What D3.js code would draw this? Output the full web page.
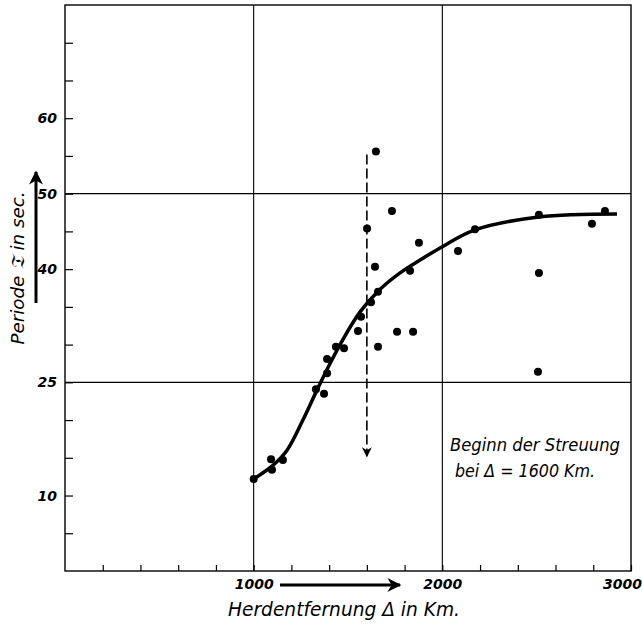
<!DOCTYPE html>
<head>
  <meta charset="utf-8" />
  <title>Periode und Herdentfernung</title>
  <style>
    body { margin: 0; background: #fff; }
    text { font-family: "DejaVu Sans Condensed", "DejaVu Sans", sans-serif; font-style: italic; fill: #000; }
  </style>
</head>
<body>
  <script src="https://cdn.jsdelivr.net/npm/d3@7"></script>
  <script>
    // Messpunkte: Herdentfernung (km) und Periode (sec)
    var distKm = [1000, 1092, 1097, 1155, 1330, 1373, 1389, 1389, 1436, 1479,
      1553, 1569, 1622, 1659, 1659, 1643, 1601, 1648, 1733, 1760,
      1845, 1829, 1876, 2083, 2173, 2512, 2512, 2507, 2793, 2862];
    var periodSec = [12.2, 14.8, 13.4, 14.7, 24.1, 23.5, 26.2, 28.1, 29.7, 29.5,
      31.8, 33.7, 35.6, 37.0, 29.7, 40.3, 45.4, 55.6, 47.7, 31.7,
      31.7, 39.8, 43.5, 42.4, 45.3, 47.2, 39.5, 26.4, 46.0, 47.7];
    // ausgeglichene Kurve
    var curveKm = [1000, 1102, 1177, 1261, 1336, 1389, 1458, 1563, 1669, 1776, 1882, 1988, 2173, 2512, 2926];
    var curveSec = [12.2, 14.0, 16.0, 20.0, 24.0, 26.7, 30.0, 34.3, 37.3, 39.5, 41.2, 42.8, 45.2, 46.9, 47.3];
    // Beginn der Streuung
    var scatterKm = 1600;
    var scatterFrom = 55.2, scatterTo = 15.2;

    var yTicks = [5, 10, 15, 20, 25, 30, 35, 40, 45, 50, 55, 60, 65, 70];
    var yLabels = [10, 25, 40, 50, 60];
    var xTicks = [200, 400, 600, 800, 1000, 1200, 1400, 1600, 1800, 2000, 2200, 2400, 2600, 2800, 3000];
    var xLabels = [1000, 2000, 3000];
    var gridX = [1000, 2000];
    var gridY = [25, 50];

    var width = 642, height = 627;
    var x = d3.scaleLinear().domain([0, 3000]).range([65, 631]);
    var y = d3.scaleLinear().domain([0, 75]).range([571, 5]);

    var svg = d3.select("body").append("svg")
      .attr("width", width).attr("height", height);

    var defs = svg.append("defs");
    defs.append("marker").attr("id", "head")
      .attr("viewBox", "0 0 10 10").attr("refX", 9).attr("refY", 5)
      .attr("markerWidth", 10).attr("markerHeight", 10)
      .attr("markerUnits", "userSpaceOnUse").attr("orient", "auto")
      .append("path").attr("d", "M0,0 L10,5 L0,10 L3,5 Z").attr("fill", "#000");
    defs.append("marker").attr("id", "bighead")
      .attr("viewBox", "0 0 10 10").attr("refX", 9).attr("refY", 5)
      .attr("markerWidth", 16).attr("markerHeight", 14)
      .attr("markerUnits", "userSpaceOnUse").attr("orient", "auto")
      .append("path").attr("d", "M0,0 L10,5 L0,10 L3,5 Z").attr("fill", "#000");

    // Rahmen und Gitter
    svg.append("rect")
      .attr("x", x(0)).attr("y", y(75))
      .attr("width", x(3000) - x(0)).attr("height", y(0) - y(75))
      .attr("fill", "none").attr("stroke", "#000").attr("stroke-width", 1.4);
    svg.selectAll(".gx").data(gridX).enter().append("line")
      .attr("x1", d => x(d)).attr("x2", d => x(d))
      .attr("y1", y(0)).attr("y2", y(75))
      .attr("stroke", "#000").attr("stroke-width", 1.1);
    svg.selectAll(".gy").data(gridY).enter().append("line")
      .attr("x1", x(0)).attr("x2", x(3000))
      .attr("y1", d => y(d)).attr("y2", d => y(d))
      .attr("stroke", "#000").attr("stroke-width", 1.1);

    // Achsen
    var yAxis = d3.axisLeft(y).tickValues(yTicks).tickSize(-8).tickPadding(8)
      .tickFormat(d => yLabels.indexOf(d) >= 0 ? d : "");
    var gy = svg.append("g").attr("transform", "translate(" + x(0) + ",0)").call(yAxis);
    var xAxis = d3.axisBottom(x).tickValues(xTicks).tickSize(-6).tickPadding(8)
      .tickFormat(d => xLabels.indexOf(d) >= 0 ? d : "");
    var gx = svg.append("g").attr("transform", "translate(0," + y(0) + ")").call(xAxis);
    [gx, gy].forEach(function (g) {
      g.select(".domain").remove();
      g.selectAll(".tick line").attr("stroke", "#000").attr("stroke-width", 1.2);
      g.selectAll(".tick text")
        .style("font-family", "'DejaVu Sans', sans-serif")
        .style("font-style", "italic").style("font-weight", "bold")
        .attr("font-size", 14);
    });
    gx.selectAll(".tick text").filter(d => d === 3000).attr("dx", -9);

    // Achsentitel
    svg.append("text").attr("x", 228).attr("y", 616).attr("font-size", 19)
      .attr("textLength", 232).attr("lengthAdjust", "spacingAndGlyphs")
      .text("Herdentfernung \u0394  in Km.");
    svg.append("line").attr("x1", 280).attr("x2", 400)
      .attr("y1", 585).attr("y2", 585)
      .attr("stroke", "#000").attr("stroke-width", 3).attr("marker-end", "url(#bighead)");
    svg.append("text")
      .attr("transform", "translate(24,268) rotate(-90)")
      .attr("text-anchor", "middle").attr("font-size", 18)
      .attr("textLength", 153).attr("lengthAdjust", "spacingAndGlyphs")
      .text("Periode \ud835\udd17 in sec.");
    svg.append("line").attr("x1", 36).attr("x2", 36)
      .attr("y1", 303).attr("y2", 172)
      .attr("stroke", "#000").attr("stroke-width", 3).attr("marker-end", "url(#bighead)");

    // Kurve
    var line = d3.line().x(d => x(d[0])).y(d => y(d[1])).curve(d3.curveCatmullRom.alpha(0.5));
    svg.append("path")
      .datum(curveKm.map((d, i) => [d, curveSec[i]]))
      .attr("d", line).attr("fill", "none")
      .attr("stroke", "#000").attr("stroke-width", 3.5);

    // Streuungsgrenze
    svg.append("line")
      .attr("x1", x(scatterKm)).attr("x2", x(scatterKm))
      .attr("y1", y(scatterFrom)).attr("y2", y(scatterTo))
      .attr("stroke", "#000").attr("stroke-width", 1.6)
      .attr("stroke-dasharray", "10,4").attr("marker-end", "url(#head)");

    // Punkte
    svg.selectAll(".pt").data(distKm).enter().append("circle")
      .attr("cx", d => x(d)).attr("cy", (d, i) => y(periodSec[i]))
      .attr("r", 4).attr("fill", "#000");

    svg.append("text").attr("x", 450).attr("y", 451).attr("font-size", 18)
      .attr("textLength", 170).attr("lengthAdjust", "spacingAndGlyphs")
      .text("Beginn der Streuung");
    svg.append("text").attr("x", 455).attr("y", 477).attr("font-size", 18)
      .attr("textLength", 140).attr("lengthAdjust", "spacingAndGlyphs")
      .text("bei \u0394 = 1600 Km.");
  </script>
</body>
